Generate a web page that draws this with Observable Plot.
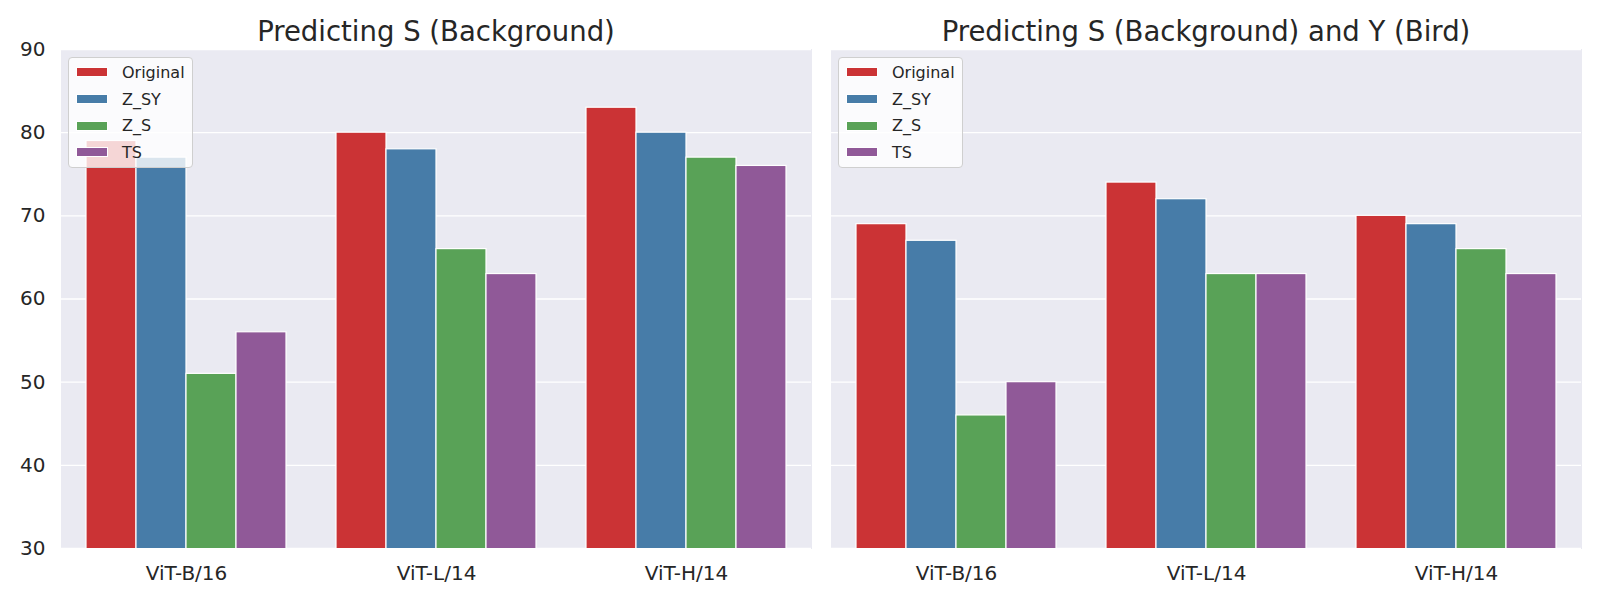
<!DOCTYPE html>
<html>
<head>
<meta charset="utf-8">
<script src="https://cdn.jsdelivr.net/npm/d3@7"></script>
<script src="https://cdn.jsdelivr.net/npm/@observablehq/plot@0.6"></script>
<style>
  html, body { margin: 0; padding: 0; background: #fff; }
  #wrap { position: relative; width: 1600px; height: 600px; font-family: "DejaVu Sans", sans-serif; color: #262626; }
  #row { display: flex; flex-direction: row; }
  .title { position: absolute; top: 17.7px; width: 750px; text-align: center; font-size: 27.5px; line-height: 27.5px; white-space: nowrap; }
  .legend { position: absolute; top: 57px; width: 125px; height: 111px; box-sizing: border-box;
            background: rgba(255,255,255,0.8); border: 1px solid #cfcfcf; border-radius: 4px; padding-top: 1px; }
  .item { display: flex; align-items: center; height: 26.7px; font-size: 16px; }
  .sw { width: 32px; height: 10px; margin-left: 7px; margin-right: 14px; box-sizing: border-box; border: 1px solid #fff; }
</style>
</head>
<body>
<div id="wrap"><div id="row"></div></div>
<script>
const models = ["ViT-B/16", "ViT-L/14", "ViT-H/14"];
const methods = ["Original", "Z_SY", "Z_S", "TS"];
const colors = ["#cb3335", "#477ca8", "#59a257", "#905998"];
const yTicks = [30, 40, 50, 60, 70, 80, 90];
const titles = ["Predicting S (Background)", "Predicting S (Background) and Y (Bird)"];
// rows: models, columns: methods
const backgroundValues = [
  [79, 77, 51, 56],
  [80, 78, 66, 63],
  [83, 80, 77, 76]
];
const birdValues = [
  [69, 67, 46, 50],
  [74, 72, 63, 63],
  [70, 69, 66, 63]
];

function panel(values, width, marginLeft, marginRight, showY) {
  const data = models.flatMap((m, i) => methods.map((s, j) => ({model: m, method: s, value: values[i][j]})));
  return Plot.plot({
    width, height: 600,
    marginTop: 49, marginBottom: 52, marginLeft, marginRight,
    style: {fontFamily: "DejaVu Sans", fontSize: "20px", color: "#262626", background: "transparent", overflow: "visible"},
    fx: {domain: models, padding: 0, label: null, tickSize: 0, tickPadding: 17, axis: "bottom"},
    x: {domain: methods, paddingInner: 0, paddingOuter: 0.5, axis: null},
    y: {domain: [30, 90], ticks: yTicks, label: null, tickSize: 0, tickPadding: 16, axis: showY ? "left" : null},
    color: {domain: methods, range: colors},
    marks: [
      Plot.frame({fill: "#eaeaf2", stroke: "#eaeaf2", strokeWidth: 1, shapeRendering: "crispEdges"}),
      Plot.gridY(yTicks, {stroke: "#ffffff", strokeOpacity: 1, strokeWidth: 1.3}),
      Plot.barY(data, {fx: "model", x: "method", y: "value", fill: "method", stroke: "#ffffff", strokeWidth: 1.2, clip: true})
    ]
  });
}

const row = document.getElementById("row");
const wrap = document.getElementById("wrap");
row.appendChild(panel(backgroundValues, 811, 61, 0, true));
row.appendChild(panel(birdValues, 789, 20, 19, false));

const panelLefts = [61, 831];
panelLefts.forEach((left, k) => {
  const t = document.createElement("div");
  t.className = "title";
  t.style.left = left + "px";
  t.textContent = titles[k];
  wrap.appendChild(t);
  const lg = document.createElement("div");
  lg.className = "legend";
  lg.style.left = (left + 7) + "px";
  methods.forEach((m, j) => {
    const it = document.createElement("div");
    it.className = "item";
    const sw = document.createElement("div");
    sw.className = "sw";
    sw.style.background = colors[j];
    const lab = document.createElement("span");
    lab.textContent = m;
    it.appendChild(sw);
    it.appendChild(lab);
    lg.appendChild(it);
  });
  wrap.appendChild(lg);
});
</script>
</body>
</html>
